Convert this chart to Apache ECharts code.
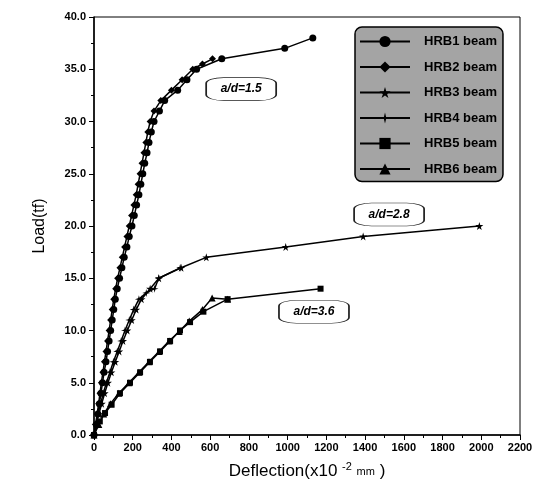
<!DOCTYPE html>
<html>
<head>
<meta charset="utf-8">
<script src="https://cdn.jsdelivr.net/npm/echarts@6/dist/echarts.min.js"></script>
<style>
  html, body { margin: 0; padding: 0; background: #fff; }
  #main { width: 547px; height: 500px; }
</style>
</head>
<body>
<div id="main"></div>
<script>
// load-deflection data: [deflection (x10^-2 mm), load (tf)]
const hrb1 = [[0,0],[12,1],[20,2],[28,3],[36,4],[44,5],[52,6],[62,7],[70,8],[78,9],[86,10],[94,11],[102,12],[110,13],[120,14],[132,15],[144,16],[156,17],[170,18],[182,19],[196,20],[208,21],[220,22],[232,23],[242,24],[252,25],[262,26],[274,27],[284,28],[296,29],[310,30],[338,31],[365,32],[432,33],[480,34],[530,35],[660,36],[985,37],[1130,38]];
const hrb2 = [[0,0],[8,1],[16,2],[24,3],[31,4],[38,5],[46,6],[54,7],[62,8],[70,9],[78,10],[86,11],[94,12],[102,13],[112,14],[122,15],[134,16],[146,17],[158,18],[170,19],[182,20],[194,21],[206,22],[218,23],[228,24],[238,25],[248,26],[258,27],[268,28],[278,29],[290,30],[310,31],[345,32],[400,33],[455,34],[510,35],[560,35.5],[612,36]];
const hrb3 = [[0,0],[12,1],[25,2],[40,3],[55,4],[72,5],[90,6],[110,7],[130,8],[150,9],[172,10],[195,11],[218,12],[245,13],[290,14],[335,15],[450,16],[580,17],[990,18],[1390,19],[1990,20]];
const hrb4 = [[0,0],[8,1],[20,2],[34,3],[48,4],[64,5],[82,6],[100,7],[120,8],[140,9],[160,10],[182,11],[205,12],[232,13],[270,13.6],[313,14],[334,15],[445,16]];
const hrb5 = [[0,0],[30,1.3],[57,2.1],[91,2.9],[134,4],[186,5],[238,6],[289,7],[341,8],[393,9],[444,10],[496,10.8],[565,11.8],[690,13],[1170,14]];
const hrb6 = [[0,0],[25,1],[50,2],[85,3],[128,4],[180,5],[232,6],[284,7],[336,8],[388,9],[440,9.9],[492,10.9],[560,12],[610,13.1],[690,13]];

const seriesNames = ['HRB1 beam', 'HRB2 beam', 'HRB3 beam', 'HRB4 beam', 'HRB5 beam', 'HRB6 beam'];
const seriesData = [hrb1, hrb2, hrb3, hrb4, hrb5, hrb6];

// ratio labels and where they sit (data coords)
const ratioLabels = ['a/d=1.5', 'a/d=2.8', 'a/d=3.6'];
const ratioPos = [[760, 33.1], [1524, 21.1], [1136, 11.8]];

const star5 = 'path://M50,0 L61,35 L98,35 L68,57 L79,91 L50,70 L21,91 L32,57 L2,35 L39,35 Z';
const star4 = 'path://M50,0 L60,40 L100,50 L60,60 L50,100 L40,60 L0,50 L40,40 Z';
const symbols = ['circle', 'diamond', star5, star4, 'rect', 'triangle'];
const sizes = [7, 7, 8, 8, 6, 7];

const myChart = echarts.init(document.getElementById('main'));

function labelBox(i) {
  return {
    silent: true,
    symbol: 'roundRect',
    symbolSize: [70, 23],
    itemStyle: { color: '#fff', borderColor: '#222', borderWidth: 1 },
    label: {
      show: true,
      position: 'inside',
      formatter: ratioLabels[i],
      color: '#000',
      fontSize: 12,
      fontWeight: 'bold',
      fontStyle: 'italic',
      fontFamily: 'Liberation Sans, Arial, sans-serif'
    },
    data: [{ coord: ratioPos[i] }]
  };
}

const series = seriesNames.map((name, i) => {
  const s = {
    name: name,
    type: 'line',
    data: seriesData[i],
    symbol: symbols[i],
    symbolSize: sizes[i],
    showAllSymbol: true,
    lineStyle: { color: '#000', width: 1.5 },
    itemStyle: { color: '#000' },
    animation: false
  };
  if (i === 0) s.markPoint = labelBox(0);
  if (i === 2) s.markPoint = labelBox(1);
  if (i === 4) s.markPoint = labelBox(2);
  return s;
});

const option = {
  animation: false,
  grid: {
    left: 94,
    right: 27,
    top: 17,
    bottom: 65,
    show: true,
    borderColor: '#000',
    borderWidth: 1
  },
  legend: {
    orient: 'vertical',
    left: 355,
    top: 27,
    padding: [8, 6, 6, 4],
    itemWidth: 50,
    itemHeight: 14,
    itemGap: 12.5,
    backgroundColor: '#a4a4a4',
    borderColor: '#000',
    borderWidth: 1.5,
    borderRadius: 7,
    data: seriesNames,
    textStyle: {
      color: '#000',
      fontSize: 13,
      fontWeight: 'bold',
      fontFamily: 'Liberation Sans, Arial, sans-serif',
      padding: [0, 0, 0, 9]
    }
  },
  xAxis: {
    type: 'value',
    min: 0,
    max: 2200,
    interval: 200,
    name: 'Deflection(x10 {sup|-2} {small|mm} )',
    nameLocation: 'middle',
    nameGap: 26,
    nameTextStyle: {
      color: '#000',
      fontSize: 17,
      fontFamily: 'Liberation Sans, Arial, sans-serif',
      rich: {
        sup: { fontSize: 11, verticalAlign: 'top', padding: [0, 0, 10, 0], color: '#000' },
        small: { fontSize: 11, color: '#000' }
      }
    },
    axisLine: { lineStyle: { color: '#000', width: 1.5 } },
    axisTick: { length: 5, lineStyle: { color: '#000' } },
    minorTick: { show: true, splitNumber: 2, length: 3, lineStyle: { color: '#000' } },
    splitLine: { show: false },
    axisLabel: {
      color: '#000',
      fontSize: 11,
      fontWeight: 'bold',
      fontFamily: 'Liberation Sans, Arial, sans-serif',
      margin: 7,
      formatter: (v) => String(v)
    }
  },
  yAxis: {
    type: 'value',
    min: 0,
    max: 40,
    interval: 5,
    name: 'Load(tf)',
    nameLocation: 'middle',
    nameGap: 46,
    nameTextStyle: {
      color: '#000',
      fontSize: 16,
      fontFamily: 'Liberation Sans, Arial, sans-serif'
    },
    axisLine: { show: true, lineStyle: { color: '#000', width: 1.5 } },
    axisTick: { show: true, length: 5, lineStyle: { color: '#000' } },
    minorTick: { show: true, splitNumber: 2, length: 3, lineStyle: { color: '#000' } },
    splitLine: { show: false },
    axisLabel: {
      color: '#000',
      fontSize: 11,
      fontWeight: 'bold',
      fontFamily: 'Liberation Sans, Arial, sans-serif',
      margin: 8,
      formatter: (v) => v.toFixed(1)
    }
  },
  series: series
};

myChart.setOption(option);
</script>
</body>
</html>
